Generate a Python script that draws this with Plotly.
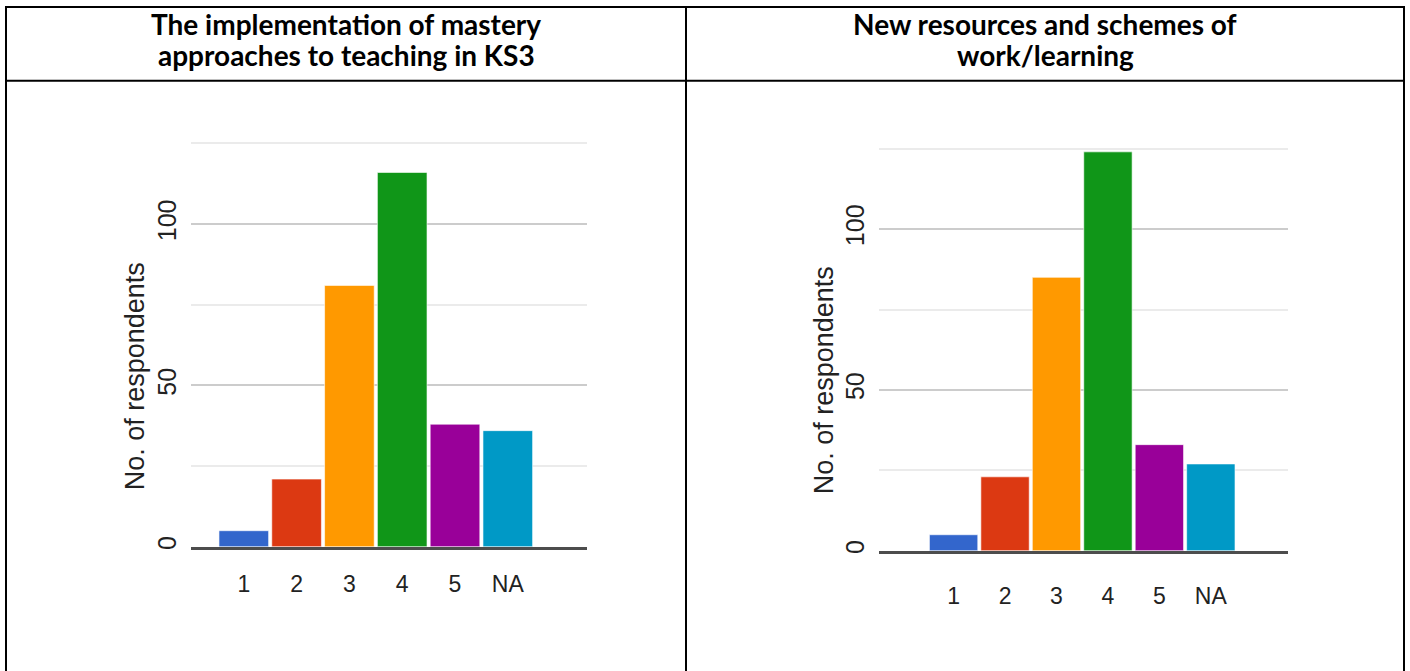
import plotly.graph_objects as go

W, H = 1410, 671

categories = ["1", "2", "3", "4", "5", "NA"]
left_values = [5, 21, 81, 116, 38, 36]
right_values = [5, 23, 85, 124, 33, 27]
bar_colors = ["#3366cc", "#dc3912", "#ff9900", "#109618", "#990099", "#0099c6"]
left_title_lines = ["The implementation of mastery", "approaches to teaching in KS3"]
right_title_lines = ["New resources and schemes of", "work/learning"]
y_title = "No. of respondents"
y_ticks = [0, 50, 100]


def px(x):
    return x / W


def py(y):
    return 1 - y / H


fig = go.Figure()
fig.add_trace(go.Bar(x=categories, y=left_values, marker=dict(color=bar_colors, line=dict(color="rgba(255,255,255,0.6)", width=1)),
                     width=0.94, xaxis="x", yaxis="y", showlegend=False))
fig.add_trace(go.Bar(x=categories, y=right_values, marker=dict(color=bar_colors, line=dict(color="rgba(255,255,255,0.6)", width=1)),
                     width=0.94, xaxis="x2", yaxis="y2", showlegend=False))

tick_font = dict(family="Liberation Sans, Arial", size=25, color="#222222")
common_y = dict(range=[0, 127], tickvals=y_ticks, tickangle=-90, tickfont=tick_font,
                showgrid=True, gridcolor="#cccccc", gridwidth=2, zeroline=False,
                ticks="outside", ticklen=4, tickcolor="rgba(0,0,0,0)",
                minor=dict(dtick=25, tick0=0, showgrid=True, gridcolor="#ebebeb", gridwidth=2),
                fixedrange=True)
common_x = dict(type="category", tickfont=dict(family="Liberation Sans, Arial", size=23, color="#222222"),
                showgrid=False, showline=True, linecolor="#4d4d4d", linewidth=2.5,
                ticks="outside", tickcolor="rgba(0,0,0,0)", fixedrange=True)

fig.update_layout(
    width=W, height=H, margin=dict(l=0, r=0, t=0, b=0),
    paper_bgcolor="white", plot_bgcolor="white",
    xaxis=dict(domain=[px(191), px(587)], range=[-1, 6.5], anchor="y", ticklen=15, **common_x),
    yaxis=dict(domain=[py(549.3), py(549.3 - 127 * 3.242)], anchor="x", **common_y),
    xaxis2=dict(domain=[px(879), px(1288)], range=[-1.45, 6.5], anchor="y2", ticklen=23, **common_x),
    yaxis2=dict(domain=[py(553.3), py(553.3 - 127 * 3.232)], anchor="x2", **common_y),
)

# table borders
line = dict(color="black", width=2)
shapes = [
    dict(type="line", xref="paper", yref="paper", x0=px(6), x1=px(1404), y0=py(7), y1=py(7), line=line),
    dict(type="line", xref="paper", yref="paper", x0=px(6), x1=px(1404), y0=py(81), y1=py(81), line=line),
    dict(type="line", xref="paper", yref="paper", x0=px(6), x1=px(6), y0=py(6), y1=py(675), line=line),
    dict(type="line", xref="paper", yref="paper", x0=px(686), x1=px(686), y0=py(6), y1=py(675), line=line),
    dict(type="line", xref="paper", yref="paper", x0=px(1404), x1=px(1404), y0=py(6), y1=py(675), line=line),
]
fig.update_layout(shapes=shapes)

title_font = dict(family="Lato", size=28, color="black")
axis_title_font = dict(family="Liberation Sans, Arial", size=27, color="#222222")
for cx, lines in ((346, left_title_lines), (1045, right_title_lines)):
    for yy, txt in zip((24, 55), lines):
        fig.add_annotation(x=px(cx), y=py(yy), xref="paper", yref="paper", text="<b>" + txt + "</b>",
                           showarrow=False, font=title_font, xanchor="center", yanchor="middle")
fig.add_annotation(x=px(135), y=py(378), xref="paper", yref="paper", text=y_title, textangle=-90,
                   showarrow=False, font=axis_title_font, xanchor="center", yanchor="middle")
fig.add_annotation(x=px(824), y=py(382), xref="paper", yref="paper", text=y_title, textangle=-90,
                   showarrow=False, font=axis_title_font, xanchor="center", yanchor="middle")

fig.write_html("out.html")
